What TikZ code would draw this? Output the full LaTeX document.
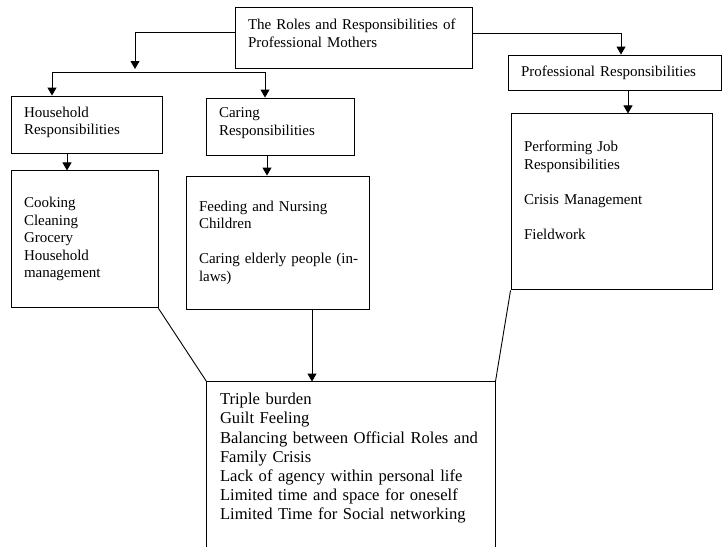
\documentclass[tikz,border=0pt]{standalone}
\usepackage{fontspec}
\setmainfont{Liberation Serif}
\usetikzlibrary{arrows.meta, positioning}

\tikzset{
  box/.style={draw, line width=0.9pt, inner xsep=13pt, inner ysep=0pt, align=left,
    font=\fontsize{15}{17.5}\selectfont},
  bigbox/.style={box, draw=none, font=\fontsize{16.6}{19.2}\selectfont},
  arr/.style={line width=0.9pt, -{Triangle[length=8pt,width=9pt]}},
  link/.style={line width=0.9pt}
}

\begin{document}
\begin{tikzpicture}[x=1pt, y=-1pt]
    \useasboundingbox (0,0) rectangle (722,547);
    \node[box, text width=211pt, minimum height=61pt] (roles) at (353.5,37.5)
        {The Roles and Responsibilities of\\Professional Mothers\\[-8.5pt]\mbox{}};
    \node[box, text width=187pt, minimum height=35pt] (prof) at (614.5,72.5)
        {Professional Responsibilities};
    \node[box, text width=125pt, minimum height=57pt] (house) at (86.5,124.5)
        {Household\\Responsibilities\\[-10.5pt]\mbox{}};
    \node[box, text width=122pt, minimum height=57pt] (caring) at (280,126.5)
        {Caring\\Responsibilities\\[-7.5pt]\mbox{}};
    \node[box, text width=121pt, minimum height=137pt, below=17pt of house.south west, anchor=north west] (housework)
        {Cooking\\Cleaning\\Grocery\\Household\\management};
    \node[box, text width=157pt, minimum height=133pt] (caretasks) at (277.5,242.5)
        {Feeding and Nursing\\Children\\[17.5pt]\mbox{Caring elderly people (in-}\\laws)};
    \node[box, text width=175pt, minimum height=176pt, below=23pt of prof.south west, anchor=north west, xshift=3pt] (jobtasks)
        {Performing Job\\Responsibilities\\[17.5pt]Crisis Management\\[17.5pt]Fieldwork\\[5.5pt]\mbox{}};
    \node[bigbox, text width=262pt, minimum height=165pt] (burden) at (351,464.5)
        {Triple burden\\Guilt Feeling\\Balancing between Official Roles and\\Family Crisis\\Lack of agency within personal life\\Limited time and space for oneself\\Limited Time for Social networking\\[-3.2pt]\mbox{}};
    \draw[link] (burden.south west) -- (burden.north west) -- (burden.north east) -- (burden.south east);

    \coordinate (split) at (135,69);
    \coordinate (barl) at (52,72);
    \coordinate (barr) at (265,72);
    \draw[arr] ([yshift=5.5pt]roles.west) -| (split);
    \draw[arr] (barr) -- (barl) -- (barl |- house.north);
    \draw[arr] (barr) -- (barr |- caring.north);
    \draw[arr] ([yshift=4.5pt]roles.east) -| ([xshift=6.5pt]prof.north);
    \draw[arr] ([xshift=13.5pt]prof.south) -- ([xshift=13.5pt]prof.south |- jobtasks.north);
    \draw[arr] ([xshift=-19.5pt]house.south) -- ([xshift=-19.5pt]house.south |- housework.north);
    \draw[arr] ([xshift=-13pt]caring.south) -- ([xshift=-13pt]caring.south |- caretasks.north);
    \draw[arr] ([xshift=34.5pt]caretasks.south) -- ([xshift=34.5pt]caretasks.south |- burden.north);
    \draw[link] (housework.south east) -- (burden.north west);
    \draw[link] (jobtasks.south west) -- (burden.north east);
\end{tikzpicture}
\end{document}
